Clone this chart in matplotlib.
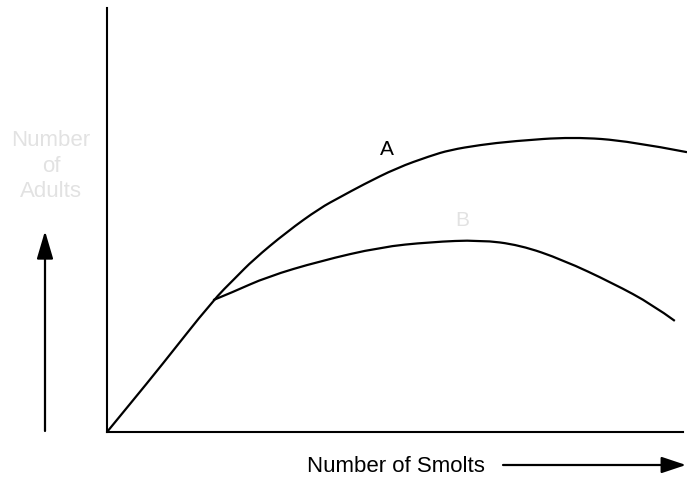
import matplotlib.pyplot as plt
from matplotlib.patches import FancyArrowPatch, PathPatch
from matplotlib.path import Path

plt.rcParams["font.family"] = ["Liberation Sans", "DejaVu Sans"]

# curve A (unrestricted) and B (density-limited)
a_x = [0, 4.5, 9.1, 18.3, 22.1, 25.2, 31.0, 36.7, 40.2, 44.1, 50.0, 55.7, 59.1,
       64.3, 70.0, 80.3, 90.2, 100]
a_y = [0, 7.5, 15.2, 31.1, 36.3, 40.6, 47.2, 52.8, 55.4, 58.3, 62.3, 65.1, 66.5,
       67.7, 68.6, 69.6, 68.6, 66.0]

b_x = [18.3, 21.7, 27.6, 36.7, 47.1, 55.7, 64.3, 71.2, 78.6, 87.2, 94.1, 97.9]
b_y = [31.1, 33.0, 36.6, 40.3, 43.6, 44.8, 45.3, 44.1, 40.6, 35.1, 30.0, 26.2]


def smooth_path(xs, ys):
    # quadratic bezier through midpoints, points act as control points
    pts = list(zip(xs, ys))
    verts = [pts[0]]
    codes = [Path.MOVETO]
    for i in range(1, len(pts) - 1):
        if i == len(pts) - 2:
            end = pts[-1]
        else:
            end = ((pts[i][0] + pts[i + 1][0]) / 2, (pts[i][1] + pts[i + 1][1]) / 2)
        verts += [pts[i], end]
        codes += [Path.CURVE3, Path.CURVE3]
    return Path(verts, codes)


fig = plt.figure(figsize=(6.87, 4.79), dpi=100)
ax = fig.add_axes([107 / 687, 47 / 479, 580 / 687, 424 / 479])

for xs, ys in [(a_x, a_y), (b_x, b_y)]:
    ax.add_patch(PathPatch(smooth_path(xs, ys), facecolor="none",
                           edgecolor="black", linewidth=1.6))

ax.text(48.3, 66.7, "A", fontsize=15, ha="center", va="center")
ax.text(61.2, 50.0, "B", fontsize=15, ha="center", va="center", color="#e2e2e2")

ax.set_xlim(0, 100)
ax.set_ylim(0, 100)
ax.set_xticks([])
ax.set_yticks([])
ax.spines["top"].set_visible(False)
ax.spines["right"].set_visible(False)
ax.spines["left"].set_linewidth(1.5)
ax.spines["bottom"].set_linewidth(1.5)
ax.spines["bottom"].set_bounds(0, 99.3)
ax.patch.set_alpha(0)

# y label, faint, with upward arrow
fig.text(51 / 687, 1 - 166 / 479, "Number\nof\nAdults", fontsize=16, ha="center",
         va="center", color="#e2e2e2", linespacing=1.3)
fig.patches.append(FancyArrowPatch(
    (45 / 687, 1 - 431 / 479), (45 / 687, 1 - 231 / 479), transform=fig.transFigure,
    arrowstyle="-|>,head_length=17,head_width=5", color="black", linewidth=1.6,
    shrinkA=0, shrinkB=0))

# x label with right arrow
fig.text(396 / 687, 1 - 466 / 479, "Number of Smolts", fontsize=16, ha="center", va="center")
fig.patches.append(FancyArrowPatch(
    (503 / 687, 1 - 465 / 479), (686 / 687, 1 - 465 / 479), transform=fig.transFigure,
    arrowstyle="-|>,head_length=15,head_width=5", color="black", linewidth=1.6,
    shrinkA=0, shrinkB=0))

fig.savefig("out.png", dpi=100)
